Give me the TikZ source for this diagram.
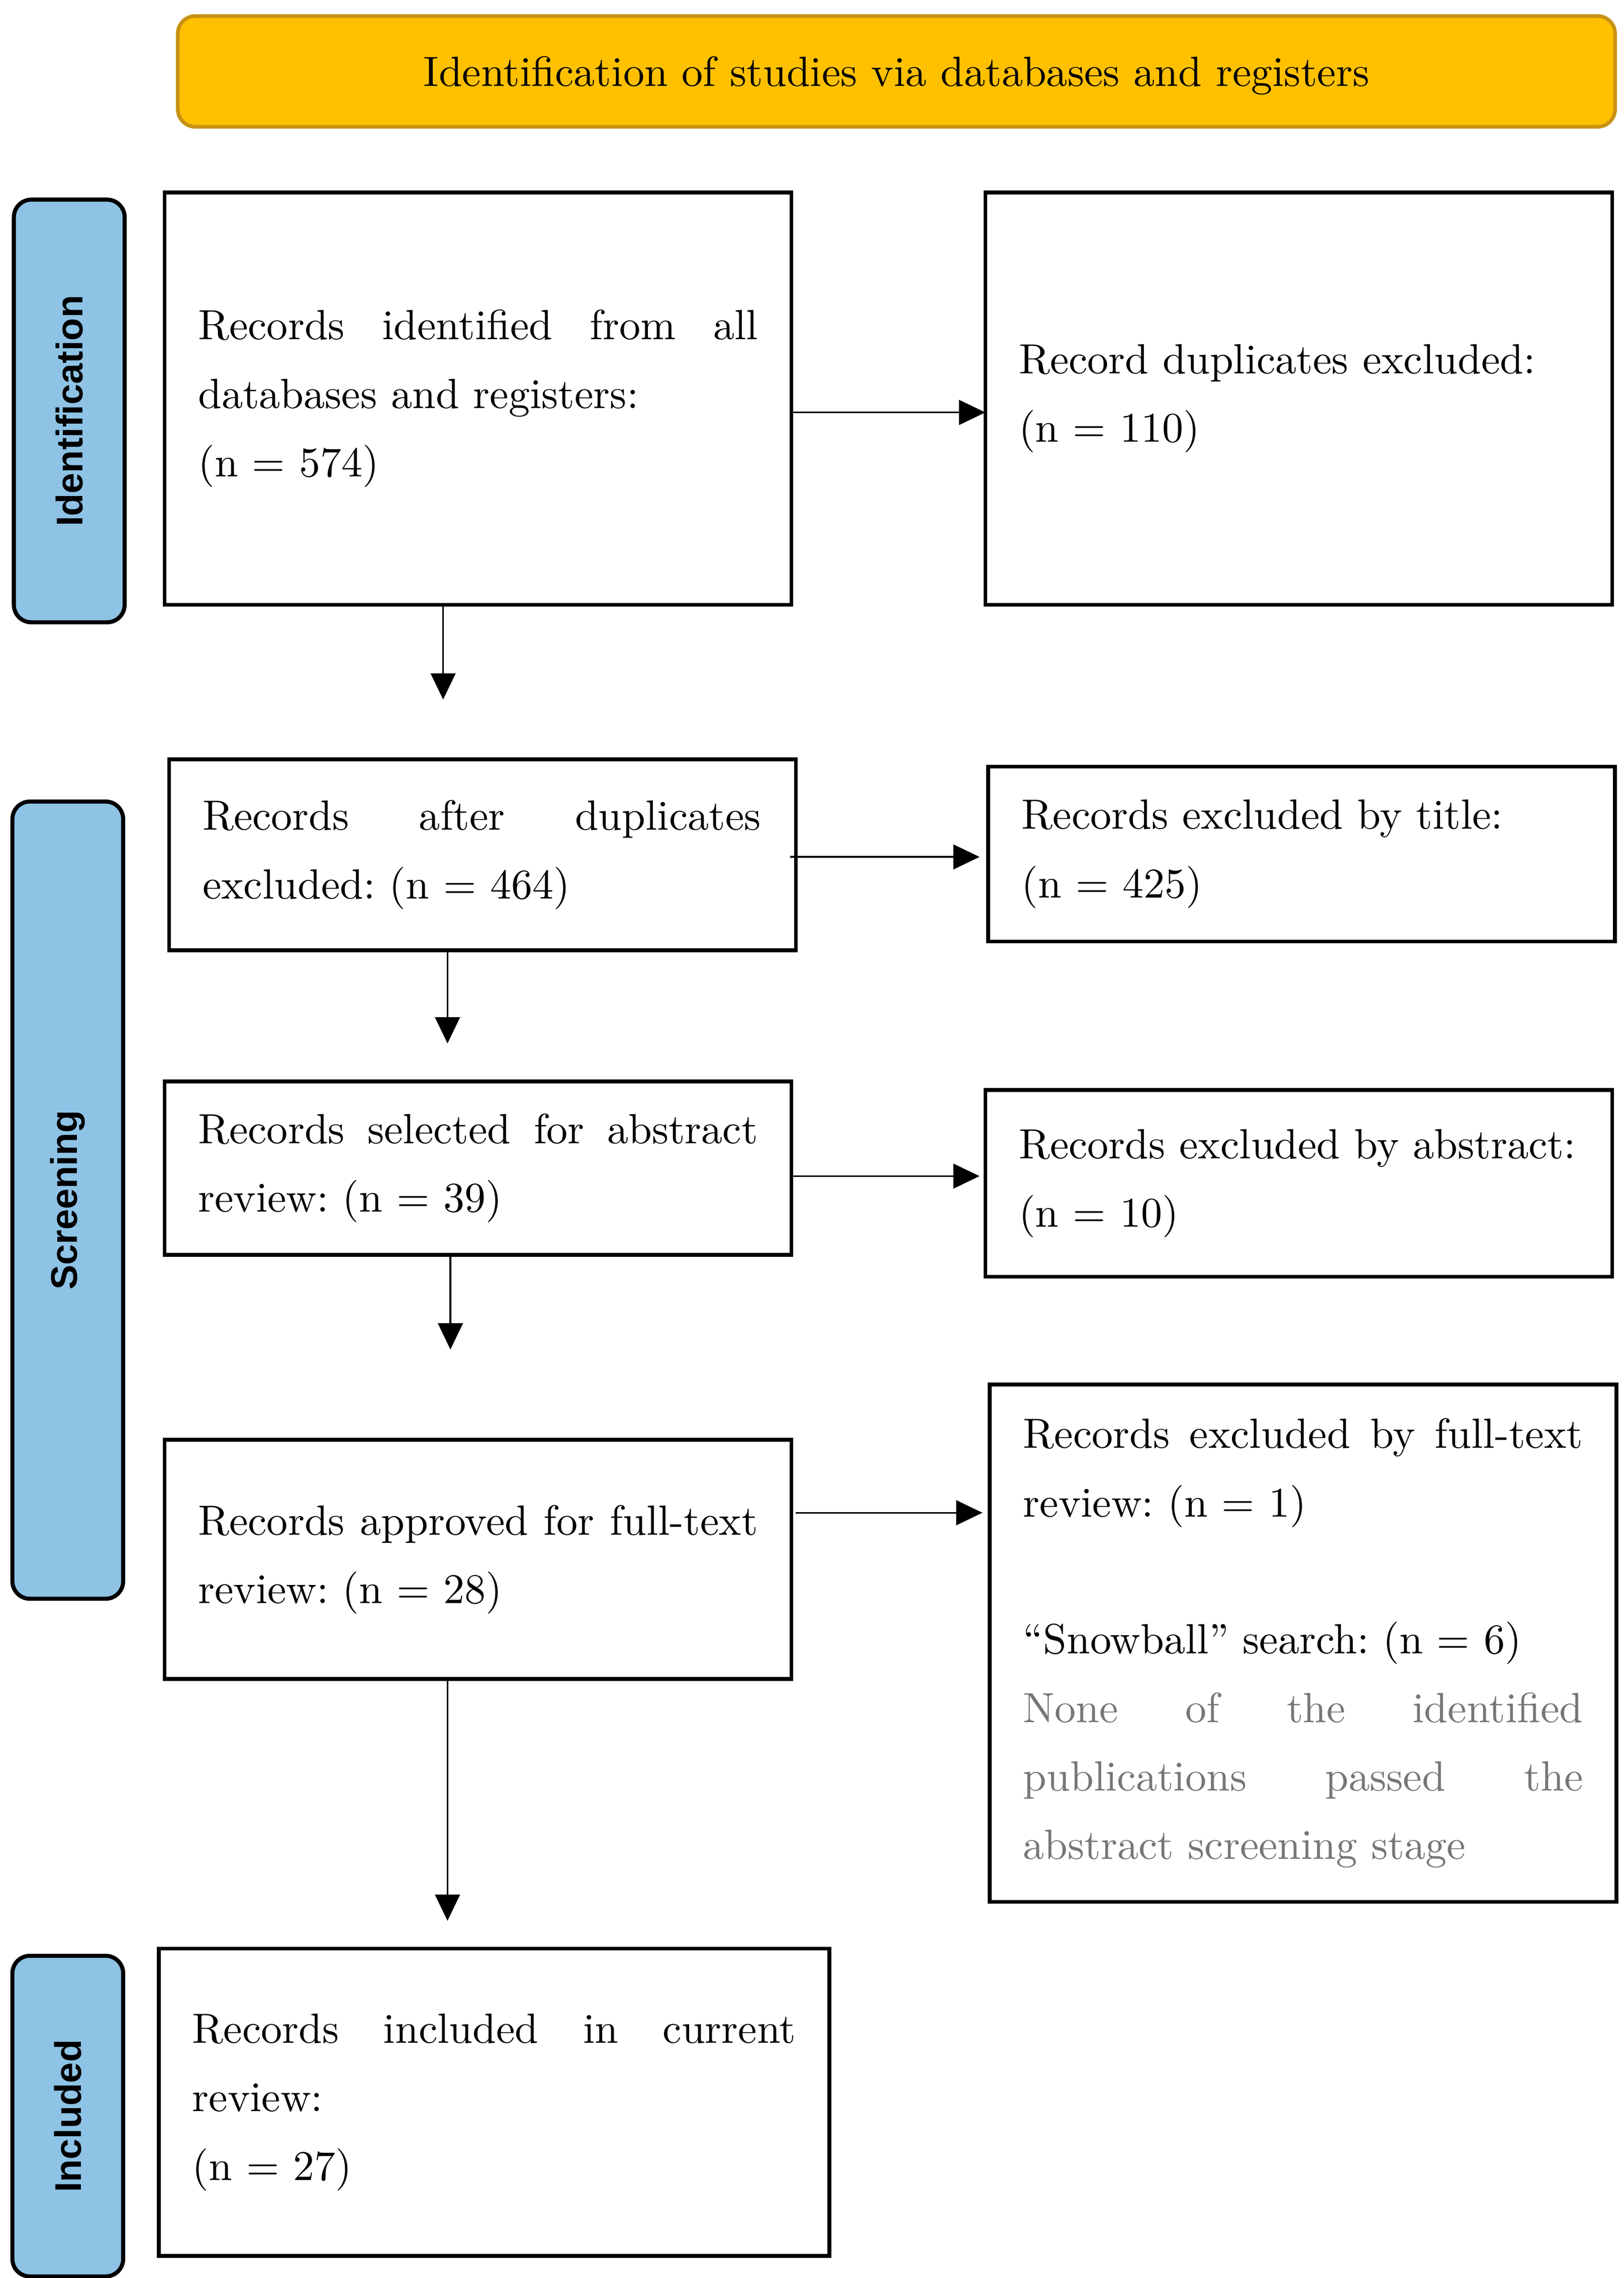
\documentclass[tikz,border=0pt]{standalone}
\usepackage{fontspec}
\setmainfont{lmroman10-regular.otf}
\newfontfamily\labfont{Liberation Sans}
\usetikzlibrary{arrows.meta}
\definecolor{bannerfill}{RGB}{255,192,0}
\definecolor{bannerdraw}{RGB}{200,145,20}
\definecolor{labfill}{RGB}{142,195,230}
\definecolor{graytext}{RGB}{118,118,118}
\newcommand{\jl}[2][384pt]{\leavevmode\hbox to #1{\spaceskip=\fontdimen2\font plus 1fil\relax #2}}
\newcommand{\nl}[1]{\mbox{#1}}
\begin{document}
\begin{tikzpicture}[x=1pt,y=-1pt,
  txt/.style={font=\fontsize{29}{47}\selectfont\frenchspacing},
  box/.style={txt, draw, line width=2.6pt, rectangle, anchor=north west, outer sep=0pt,
    inner xsep=23pt, inner ysep=0pt, text width=384pt, align=left},
  lab/.style={draw, line width=2.8pt, fill=labfill, rounded corners=12pt,
    rotate=90, inner sep=0pt, minimum height=76pt, outer sep=0pt,
    font=\labfont\bfseries\fontsize{25.5}{30}\selectfont},
  arr/.style={-{Triangle[length=18pt,width=17pt]}, line width=1.2pt}]
\useasboundingbox (0,0) rectangle (1113.8,1563.1);

% banner
\node[txt, draw=bannerdraw, fill=bannerfill, line width=2.5pt, rounded corners=12pt,
  minimum width=986pt, minimum height=76pt, outer sep=0pt, text depth=0pt] (ban) at (615,49)
  {Identification of studies via databases and registers};

% phase labels
\node[lab, minimum width=290pt] (l1) at (47.5,282) {Identification};
\node[lab, minimum width=547pt] (l2) at (46.5,823.5) {Screening};
\node[lab, minimum width=220pt] (l3) at (46.5,1452) {Included};

% left column
\node[box, minimum width=429pt, minimum height=283pt] (b1) at (113,132)
  {\jl{Records identified from all}\\ \nl{databases and registers:}\\ (n = 574)};
\node[box, minimum width=430pt, minimum height=131pt] (b2) at (116,521)
  {\jl[383pt]{Records after duplicates}\\ \nl{excluded: (n = 464)}};
\node[box, minimum width=429pt, minimum height=119pt] (b3) at (113,742)
  {\jl{Records selected for abstract}\\ \nl{review: (n = 39)}};
\node[box, minimum width=429pt, minimum height=164pt] (b4) at (113,988)
  {\jl{Records approved for full-text}\\ \nl{review: (n = 28)}};
\node[box, minimum width=460pt, minimum height=211pt, text width=414pt] (b5) at (109,1337)
  {\jl[414pt]{Records included in current}\\ \nl{review:}\\ (n = 27)};

% right column
\node[box, minimum width=430pt, minimum height=283pt] (r1) at (676,132)
  {\nl{Record duplicates excluded:}\\ (n = 110)};
\node[box, minimum width=430pt, minimum height=120pt] (r2) at (678,526)
  {\nl{Records excluded by title:}\\ (n = 425)};
\node[box, minimum width=430pt, minimum height=128pt] (r3) at (676,748)
  {\nl{Records excluded by abstract:}\\ (n = 10)};
\node[box, minimum width=430pt, minimum height=355pt] (r4) at (679,950)
  {\jl{Records excluded by full-text}\\ \nl{review: (n = 1)}\\[47pt]
   \nl{“Snowball” search: (n = 6)}\\
   \color{graytext}\jl{None of the identified}\\ \jl{publications passed the}\\
   \nl{abstract screening stage}};

% horizontal arrows
\draw[arr] (b1.east |- 0,283) -- (r1.west |- 0,283);
\draw[arr, shorten >=6pt] ([xshift=-4pt]b2.east |- 0,588) -- (r2.west |- 0,588);
\draw[arr, shorten >=4pt] (b3.east |- 0,807) -- (r3.west |- 0,807);
\draw[arr, shorten >=5pt] ([xshift=3pt]b4.east |- 0,1038) -- (r4.west |- 0,1038);

% vertical arrows
\coordinate (d1) at (304,480);
\coordinate (d2) at (307,716);
\coordinate (d3) at (309,926);
\coordinate (d4) at (307,1318);
\draw[arr] (b1.south -| d1) -- (d1);
\draw[arr] (b2.south -| d2) -- (d2);
\draw[arr] (b3.south -| d3) -- (d3);
\draw[arr] (b4.south -| d4) -- (d4);
\end{tikzpicture}
\end{document}
